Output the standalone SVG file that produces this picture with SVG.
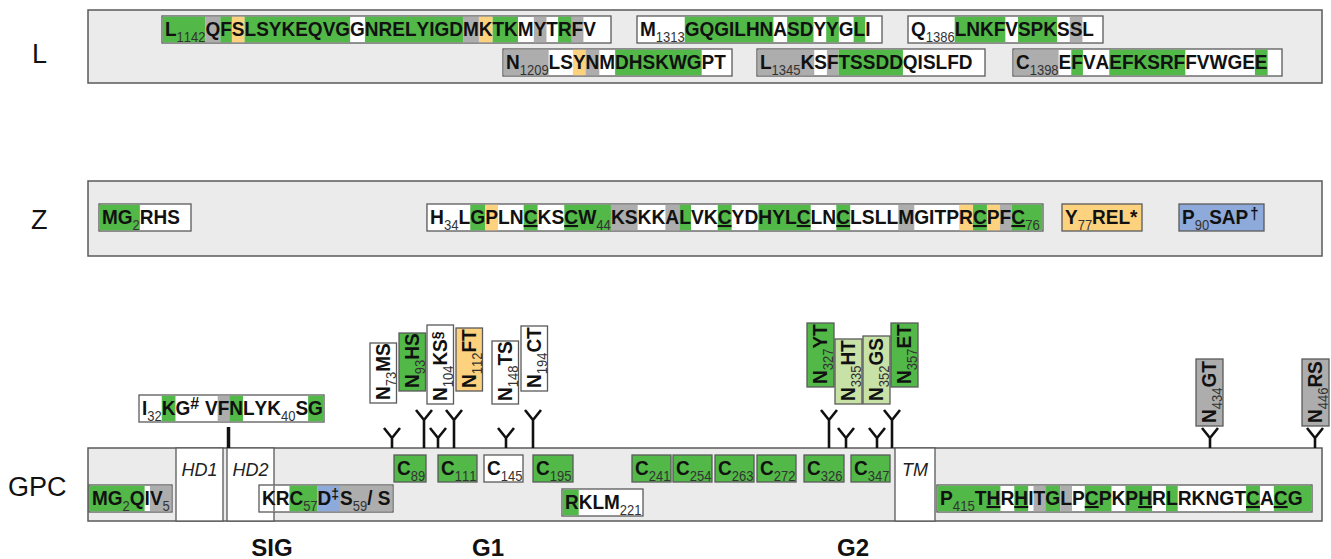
<svg xmlns="http://www.w3.org/2000/svg" width="1331" height="559" viewBox="0 0 1331 559">
<style>
.pan{fill:#ebebeb;stroke:#5a5a5a;stroke-width:1.5}
.bx{fill:#fff;stroke:#5a5a5a;stroke-width:1.3}
.g{fill:#52b848}.y{fill:#fdd27f}.r{fill:#adadad}.b{fill:#8eaadb}.lg{fill:#c7e1a6}
.gb{fill:#52b848;stroke:#5a5a5a;stroke-width:1.3}
.yb{fill:#fdd27f;stroke:#5a5a5a;stroke-width:1.3}
.bb{fill:#8eaadb;stroke:#5a5a5a;stroke-width:1.3}
.rb{fill:#adadad;stroke:#5a5a5a;stroke-width:1.3}
.lgb{fill:#c7e1a6;stroke:#5a5a5a;stroke-width:1.3}
.s{font-family:"Liberation Sans",Arial,sans-serif;font-weight:700;font-size:19px;fill:#111;font-kerning:none}
.sub{font-weight:400;font-size:13px;fill:#333}
.u{text-decoration:underline}
.it{font-family:"Liberation Sans",Arial,sans-serif;font-style:italic;font-size:18px;fill:#222;text-anchor:middle}
.lab{font-family:"Liberation Sans",Arial,sans-serif;font-size:27px;fill:#111}
.reg{font-family:"Liberation Sans",Arial,sans-serif;font-weight:700;font-size:24px;fill:#111;text-anchor:middle}
.gly{fill:none;stroke:#111;stroke-width:2.6}
</style>

<g id="panels">
<rect class="pan" x="88" y="10" width="1234" height="73"/>
<rect class="pan" x="88" y="181" width="1234" height="75"/>
<rect class="pan" x="88" y="448" width="1234" height="73"/>
<text class="lab" x="32" y="63">L</text>
<text class="lab" x="31" y="229">Z</text>
<text class="lab" x="8" y="496">GPC</text>
</g>

<!-- L protein -->
<g id="L-1142">
<rect class="bx" x="162" y="16" width="449" height="27"/>
<rect class="g" x="162.75" y="16.75" width="42.77" height="25.5"/>
<rect class="r" x="205.52" y="16.75" width="14.78" height="25.5"/>
<rect class="g" x="220.30" y="16.75" width="11.61" height="25.5"/>
<rect class="y" x="231.91" y="16.75" width="12.67" height="25.5"/>
<rect class="g" x="244.58" y="16.75" width="105.57" height="25.5"/>
<rect class="g" x="364.93" y="16.75" width="98.17" height="25.5"/>
<rect class="r" x="463.10" y="16.75" width="15.83" height="25.5"/>
<rect class="y" x="478.93" y="16.75" width="13.72" height="25.5"/>
<rect class="g" x="492.65" y="16.75" width="25.33" height="25.5"/>
<rect class="r" x="533.81" y="16.75" width="12.67" height="25.5"/>
<rect class="g" x="558.09" y="16.75" width="13.72" height="25.5"/>
<rect class="r" x="571.81" y="16.75" width="11.61" height="25.5"/>
<text class="s" x="165" y="36" transform="matrix(1,0,0,1.08,0,-2.88)">L<tspan class="sub" dy="6">1142</tspan><tspan dy="-6">QFSLSYKEQVGGNRELYIGDMKTKMYTRFV</tspan></text>
</g>
<g id="L-1313">
<rect class="bx" x="637" y="16" width="245" height="27"/>
<rect class="g" x="684.74" y="16.75" width="88.67" height="25.5"/>
<rect class="g" x="787.13" y="16.75" width="26.39" height="25.5"/>
<rect class="g" x="826.19" y="16.75" width="12.67" height="25.5"/>
<rect class="g" x="853.64" y="16.75" width="11.61" height="25.5"/>
<text class="s" x="640" y="36" transform="matrix(1,0,0,1.08,0,-2.88)">M<tspan class="sub" dy="6">1313</tspan><tspan dy="-6">GQGILHNASDYYGLI</tspan></text>
</g>
<g id="L-1386">
<rect class="bx" x="908" y="16" width="195" height="27"/>
<rect class="g" x="954.69" y="16.75" width="50.66" height="25.5"/>
<rect class="g" x="1018.02" y="16.75" width="39.06" height="25.5"/>
<rect class="r" x="1069.75" y="16.75" width="12.67" height="25.5"/>
<text class="s" x="911" y="36" transform="matrix(1,0,0,1.08,0,-2.88)">Q<tspan class="sub" dy="6">1386</tspan><tspan dy="-6">LNKFVSPKSSL</tspan></text>
</g>
<g id="L-1209">
<rect class="bx" x="503" y="49" width="229" height="27"/>
<rect class="r" x="503.75" y="49.75" width="44.88" height="25.5"/>
<rect class="y" x="572.91" y="49.75" width="12.67" height="25.5"/>
<rect class="r" x="585.58" y="49.75" width="13.72" height="25.5"/>
<rect class="g" x="615.13" y="49.75" width="86.55" height="25.5"/>
<text class="s" x="506" y="69" transform="matrix(1,0,0,1.08,0,-5.52)">N<tspan class="sub" dy="6">1209</tspan><tspan dy="-6">LSYNMDHSKWGPT</tspan></text>
</g>
<g id="L-1345">
<rect class="bx" x="757" y="49" width="228" height="27"/>
<rect class="r" x="757.75" y="49.75" width="56.49" height="25.5"/>
<rect class="r" x="826.91" y="49.75" width="11.61" height="25.5"/>
<rect class="g" x="838.52" y="49.75" width="64.39" height="25.5"/>
<text class="s" x="760" y="69" transform="matrix(1,0,0,1.08,0,-5.52)">L<tspan class="sub" dy="6">1345</tspan><tspan dy="-6">KSFTSSDDQISLFD</tspan></text>
</g>
<g id="L-1398">
<rect class="bx" x="1013" y="49" width="269" height="27"/>
<rect class="r" x="1013.75" y="49.75" width="44.88" height="25.5"/>
<rect class="g" x="1071.30" y="49.75" width="11.61" height="25.5"/>
<rect class="g" x="1109.30" y="49.75" width="76.00" height="25.5"/>
<rect class="g" x="1254.97" y="49.75" width="12.67" height="25.5"/>
<text class="s" x="1016" y="69" transform="matrix(1,0,0,1.08,0,-5.52)">C<tspan class="sub" dy="6">1398</tspan><tspan dy="-6">EFVAEFKSRFFVWGEE</tspan></text>
</g>

<!-- Z protein -->
<g id="Z-2">
<rect class="bx" x="99" y="204" width="92" height="27"/>
<rect class="g" x="99.75" y="204.75" width="40.09" height="25.5"/>
<text class="s" x="102" y="224" transform="matrix(1,0,0,1.08,0,-17.92)">MG<tspan class="sub" dy="6">2</tspan><tspan dy="-6">RHS</tspan></text>
</g>
<g id="Z-34" transform="translate(430,0) scale(1.012,1) translate(-430,0)">
<rect class="bx" x="427" y="204" width="608.7" height="27"/>
<rect class="g" x="469.79" y="204.75" width="14.78" height="25.5"/>
<rect class="y" x="484.57" y="204.75" width="12.67" height="25.5"/>
<rect class="g" x="522.57" y="204.75" width="13.72" height="25.5"/>
<rect class="g" x="562.68" y="204.75" width="46.12" height="25.5"/>
<rect class="r" x="608.80" y="204.75" width="26.39" height="25.5"/>
<rect class="r" x="662.63" y="204.75" width="13.72" height="25.5"/>
<rect class="g" x="676.35" y="204.75" width="11.61" height="25.5"/>
<rect class="g" x="714.35" y="204.75" width="13.72" height="25.5"/>
<rect class="g" x="754.46" y="204.75" width="51.72" height="25.5"/>
<rect class="g" x="831.51" y="204.75" width="13.72" height="25.5"/>
<rect class="r" x="892.73" y="204.75" width="15.83" height="25.5"/>
<rect class="y" x="952.90" y="204.75" width="13.72" height="25.5"/>
<rect class="g" x="966.62" y="204.75" width="13.72" height="25.5"/>
<rect class="y" x="980.34" y="204.75" width="12.67" height="25.5"/>
<rect class="r" x="993.01" y="204.75" width="11.61" height="25.5"/>
<rect class="g" x="1004.62" y="204.75" width="30.33" height="25.5"/>
<text class="s" x="430" y="224" transform="matrix(1,0,0,1.08,0,-17.92)">H<tspan class="sub" dy="6">34</tspan><tspan dy="-6">LGPLN</tspan><tspan class="u">C</tspan>KS<tspan class="u">C</tspan>W<tspan class="sub" dy="6">44</tspan><tspan dy="-6">KSKKALVK</tspan><tspan class="u">C</tspan>YDHYL<tspan class="u">C</tspan>LN<tspan class="u">C</tspan>LSLLMGITPR<tspan class="u">C</tspan>PF<tspan class="u">C</tspan><tspan class="sub" dy="6">76</tspan></text>
</g>
<g id="Z-77">
<rect class="yb" x="1062" y="204" width="80" height="27"/>
<text class="s" x="1065" y="224" transform="matrix(1,0,0,1.08,0,-17.92)">Y<tspan class="sub" dy="6">77</tspan><tspan dy="-6">REL*</tspan></text>
</g>
<g id="Z-90">
<rect class="bb" x="1179" y="204" width="85" height="27"/>
<text class="s" x="1182" y="224" transform="matrix(1,0,0,1.08,0,-17.92)">P<tspan class="sub" dy="6">90</tspan><tspan dy="-6">SAP</tspan><tspan font-size="15" dx="2" dy="-5">†</tspan></text>
</g>

<!-- GPC domains -->
<g id="HD1">
<rect class="bx" x="176" y="448" width="47" height="73"/>
<text class="it" x="199.5" y="476">HD1</text>
</g>
<g id="HD2">
<rect class="bx" x="227" y="448" width="47" height="73"/>
<text class="it" x="250.5" y="476">HD2</text>
</g>
<g id="TM">
<rect class="bx" x="895" y="448" width="40" height="73"/>
<text class="it" x="915" y="476">TM</text>
</g>

<g id="connectors">
<line x1="228.5" y1="427" x2="228.5" y2="448" stroke="#111" stroke-width="3.5"/>
</g>

<g id="GPC-32">
<rect class="bx" x="139" y="395" width="185" height="27"/>
<rect class="g" x="161.74" y="395.75" width="13.72" height="25.5"/>
<rect class="r" x="217.67" y="395.75" width="11.61" height="25.5"/>
<rect class="g" x="229.28" y="395.75" width="13.72" height="25.5"/>
<rect class="g" x="308.13" y="395.75" width="15.12" height="25.5"/>
<text class="s" x="142" y="415" transform="matrix(1,0,0,1.08,0,-33.2)">I<tspan class="sub" dy="6">32</tspan><tspan dy="-6">KG</tspan><tspan font-size="16" dy="-6">#</tspan><tspan x="205" dy="6">VFNLYK</tspan><tspan class="sub" dy="6">40</tspan><tspan dy="-6">SG</tspan></text>
</g>
<g id="GPC-2">
<rect class="bx" x="89" y="485" width="83" height="27"/>
<rect class="g" x="89.75" y="485.75" width="54.87" height="25.5"/>
<rect class="r" x="149.90" y="485.75" width="21.35" height="25.5"/>
<text class="s" x="92" y="505" transform="matrix(1,0,0,1.08,0,-40.4)">MG<tspan class="sub" dy="6">2</tspan><tspan dy="-6">QIV</tspan><tspan class="sub" dy="6">5</tspan></text>
</g>
<g id="GPC-57">
<rect class="bx" x="259" y="485" width="134" height="27"/>
<rect class="g" x="289.44" y="485.75" width="28.18" height="25.5"/>
<rect class="b" x="317.62" y="485.75" width="22.38" height="25.5"/>
<rect class="r" x="340" y="485.75" width="52.25" height="25.5"/>
<line x1="274" y1="485.75" x2="274" y2="511.25" stroke="#5a5a5a" stroke-width="1.3"/>
<text class="s" x="262" y="505" transform="matrix(1,0,0,1.08,0,-40.4)">KRC<tspan class="sub" dy="6">57</tspan><tspan dy="-6">D</tspan><tspan font-size="14" dy="-6">‡</tspan><tspan x="340" dy="6">S</tspan><tspan class="sub" dy="6">59</tspan><tspan dy="-6">/ S</tspan></text>
</g>

<g id="GPC-C89"><rect class="gb" x="394" y="455" width="32" height="27"/><text class="s" x="397" y="475" transform="matrix(1,0,0,1.08,0,-38)">C<tspan class="sub" dy="6">89</tspan></text></g>
<g id="GPC-C111"><rect class="gb" x="438" y="455" width="39" height="27"/><text class="s" x="441" y="475" transform="matrix(1,0,0,1.08,0,-38)">C<tspan class="sub" dy="6">111</tspan></text></g>
<g id="GPC-C145"><rect class="bx" x="484" y="455" width="39" height="27"/><text class="s" x="487" y="475" transform="matrix(1,0,0,1.08,0,-38)">C<tspan class="sub" dy="6">145</tspan></text></g>
<g id="GPC-C195"><rect class="gb" x="533" y="455" width="40" height="27"/><text class="s" x="536" y="475" transform="matrix(1,0,0,1.08,0,-38)">C<tspan class="sub" dy="6">195</tspan></text></g>
<g id="GPC-C241"><rect class="gb" x="632" y="455" width="39" height="27"/><text class="s" x="635" y="475" transform="matrix(1,0,0,1.08,0,-38)">C<tspan class="sub" dy="6">241</tspan></text></g>
<g id="GPC-C254"><rect class="gb" x="673" y="455" width="39" height="27"/><text class="s" x="676" y="475" transform="matrix(1,0,0,1.08,0,-38)">C<tspan class="sub" dy="6">254</tspan></text></g>
<g id="GPC-C263"><rect class="gb" x="715" y="455" width="39" height="27"/><text class="s" x="718" y="475" transform="matrix(1,0,0,1.08,0,-38)">C<tspan class="sub" dy="6">263</tspan></text></g>
<g id="GPC-C272"><rect class="gb" x="757" y="455" width="39" height="27"/><text class="s" x="760" y="475" transform="matrix(1,0,0,1.08,0,-38)">C<tspan class="sub" dy="6">272</tspan></text></g>
<g id="GPC-C326"><rect class="gb" x="804" y="455" width="40" height="27"/><text class="s" x="807" y="475" transform="matrix(1,0,0,1.08,0,-38)">C<tspan class="sub" dy="6">326</tspan></text></g>
<g id="GPC-C347"><rect class="gb" x="851" y="455" width="39" height="27"/><text class="s" x="854" y="475" transform="matrix(1,0,0,1.08,0,-38)">C<tspan class="sub" dy="6">347</tspan></text></g>

<g id="GPC-221">
<rect class="bx" x="562" y="489" width="81" height="27"/>
<rect class="g" x="562.75" y="489.75" width="15.97" height="25.5"/>
<text class="s" x="565" y="509" transform="matrix(1,0,0,1.08,0,-40.72)">RKLM<tspan class="sub" dy="6">221</tspan></text>
</g>

<g id="GPC-415" transform="translate(940,0) scale(1.012,1) translate(-940,0)">
<rect class="bx" x="937" y="485" width="370.6" height="27"/>
<rect class="g" x="937.75" y="485.75" width="61.93" height="25.5"/>
<rect class="g" x="1013.40" y="485.75" width="13.72" height="25.5"/>
<rect class="r" x="1032.40" y="485.75" width="11.61" height="25.5"/>
<rect class="g" x="1044.01" y="485.75" width="14.78" height="25.5"/>
<rect class="r" x="1058.79" y="485.75" width="11.61" height="25.5"/>
<rect class="g" x="1083.07" y="485.75" width="26.39" height="25.5"/>
<rect class="g" x="1123.18" y="485.75" width="26.39" height="25.5"/>
<rect class="g" x="1163.29" y="485.75" width="11.61" height="25.5"/>
<rect class="g" x="1242.45" y="485.75" width="13.72" height="25.5"/>
<rect class="g" x="1269.89" y="485.75" width="36.96" height="25.5"/>
<text class="s" x="940" y="505" transform="matrix(1,0,0,1.08,0,-40.4)">P<tspan class="sub" dy="6">415</tspan><tspan dy="-6">T</tspan><tspan class="u">H</tspan>R<tspan class="u">H</tspan>ITGLP<tspan class="u">C</tspan>PKP<tspan class="u">H</tspan>RLRKNGT<tspan class="u">C</tspan>A<tspan class="u">C</tspan>G</text>
</g>

<!-- glycosylation sites -->
<g id="glycan-sites">
<path class="gly" d="M392 448V438M384 428L392 438L400 428"/>
<path class="gly" d="M424 448V420M416 410L424 420L432 410"/>
<path class="gly" d="M438 448V438M430 428L438 438L446 428"/>
<path class="gly" d="M454 448V420M446 410L454 420L462 410"/>
<path class="gly" d="M506 448V438M498 428L506 438L514 428"/>
<path class="gly" d="M533 448V420M525 410L533 420L541 410"/>
<path class="gly" d="M829 448V420M821 410L829 420L837 410"/>
<path class="gly" d="M846 448V438M838 428L846 438L854 428"/>
<path class="gly" d="M877 448V438M869 428L877 438L885 428"/>
<path class="gly" d="M892 448V420M884 410L892 420L900 410"/>
<path class="gly" d="M1210 448V438M1202 428L1210 438L1218 428"/>
<path class="gly" d="M1315 448V438M1307 428L1315 438L1323 428"/>
</g>

<g id="N73"><rect class="bx" x="370" y="343" width="26.5" height="60"/><text class="s" transform="translate(390,400) rotate(-90) scale(1,1.08)">N<tspan class="sub" dy="6">73</tspan><tspan dy="-6">MS</tspan></text></g>
<g id="N93"><rect class="gb" x="399" y="333" width="26.5" height="58"/><text class="s" transform="translate(419,388) rotate(-90) scale(1,1.08)">N<tspan class="sub" dy="6">93</tspan><tspan dy="-6">HS</tspan></text></g>
<g id="N104"><rect class="bx" x="427" y="325" width="26.5" height="79"/><text class="s" transform="translate(447,401) rotate(-90) scale(1,1.08)">N<tspan class="sub" dy="6">104</tspan><tspan dy="-6">KS</tspan><tspan font-size="14" dy="-5">§</tspan></text></g>
<g id="N112"><rect class="yb" x="456" y="328" width="26.5" height="63"/><text class="s" transform="translate(476,388) rotate(-90) scale(1,1.08)">N<tspan class="sub" dy="6">112</tspan><tspan dy="-6">FT</tspan></text></g>
<g id="N148"><rect class="bx" x="492" y="341" width="26.5" height="63"/><text class="s" transform="translate(512,401) rotate(-90) scale(1,1.08)">N<tspan class="sub" dy="6">148</tspan><tspan dy="-6">TS</tspan></text></g>
<g id="N194"><rect class="bx" x="521" y="326" width="26.5" height="65"/><text class="s" transform="translate(541,388) rotate(-90) scale(1,1.08)">N<tspan class="sub" dy="6">194</tspan><tspan dy="-6">CT</tspan></text></g>
<g id="N327"><rect class="gb" x="807" y="323" width="27" height="64"/><text class="s" transform="translate(827,384) rotate(-90) scale(1,1.08)">N<tspan class="sub" dy="6">327</tspan><tspan dy="-6">YT</tspan></text></g>
<g id="N335"><rect class="lgb" x="835" y="339" width="27" height="65"/><text class="s" transform="translate(855,401) rotate(-90) scale(1,1.08)">N<tspan class="sub" dy="6">335</tspan><tspan dy="-6">HT</tspan></text></g>
<g id="N352"><rect class="lgb" x="863" y="336" width="27" height="68"/><text class="s" transform="translate(883,401) rotate(-90) scale(1,1.08)">N<tspan class="sub" dy="6">352</tspan><tspan dy="-6">GS</tspan></text></g>
<g id="N357"><rect class="gb" x="891" y="323" width="27" height="64"/><text class="s" transform="translate(911,384) rotate(-90) scale(1,1.08)">N<tspan class="sub" dy="6">357</tspan><tspan dy="-6">ET</tspan></text></g>
<g id="N434"><rect class="rb" x="1196" y="359" width="27" height="67"/><text class="s" transform="translate(1216,423) rotate(-90) scale(1,1.08)">N<tspan class="sub" dy="6">434</tspan><tspan dy="-6">GT</tspan></text></g>
<g id="N446"><rect class="rb" x="1302" y="359" width="27" height="67"/><text class="s" transform="translate(1322,423) rotate(-90) scale(1,1.08)">N<tspan class="sub" dy="6">446</tspan><tspan dy="-6">RS</tspan></text></g>

<g id="regions">
<text class="reg" x="272" y="556">SIG</text>
<text class="reg" x="488" y="556">G1</text>
<text class="reg" x="853" y="556">G2</text>
</g>
</svg>
